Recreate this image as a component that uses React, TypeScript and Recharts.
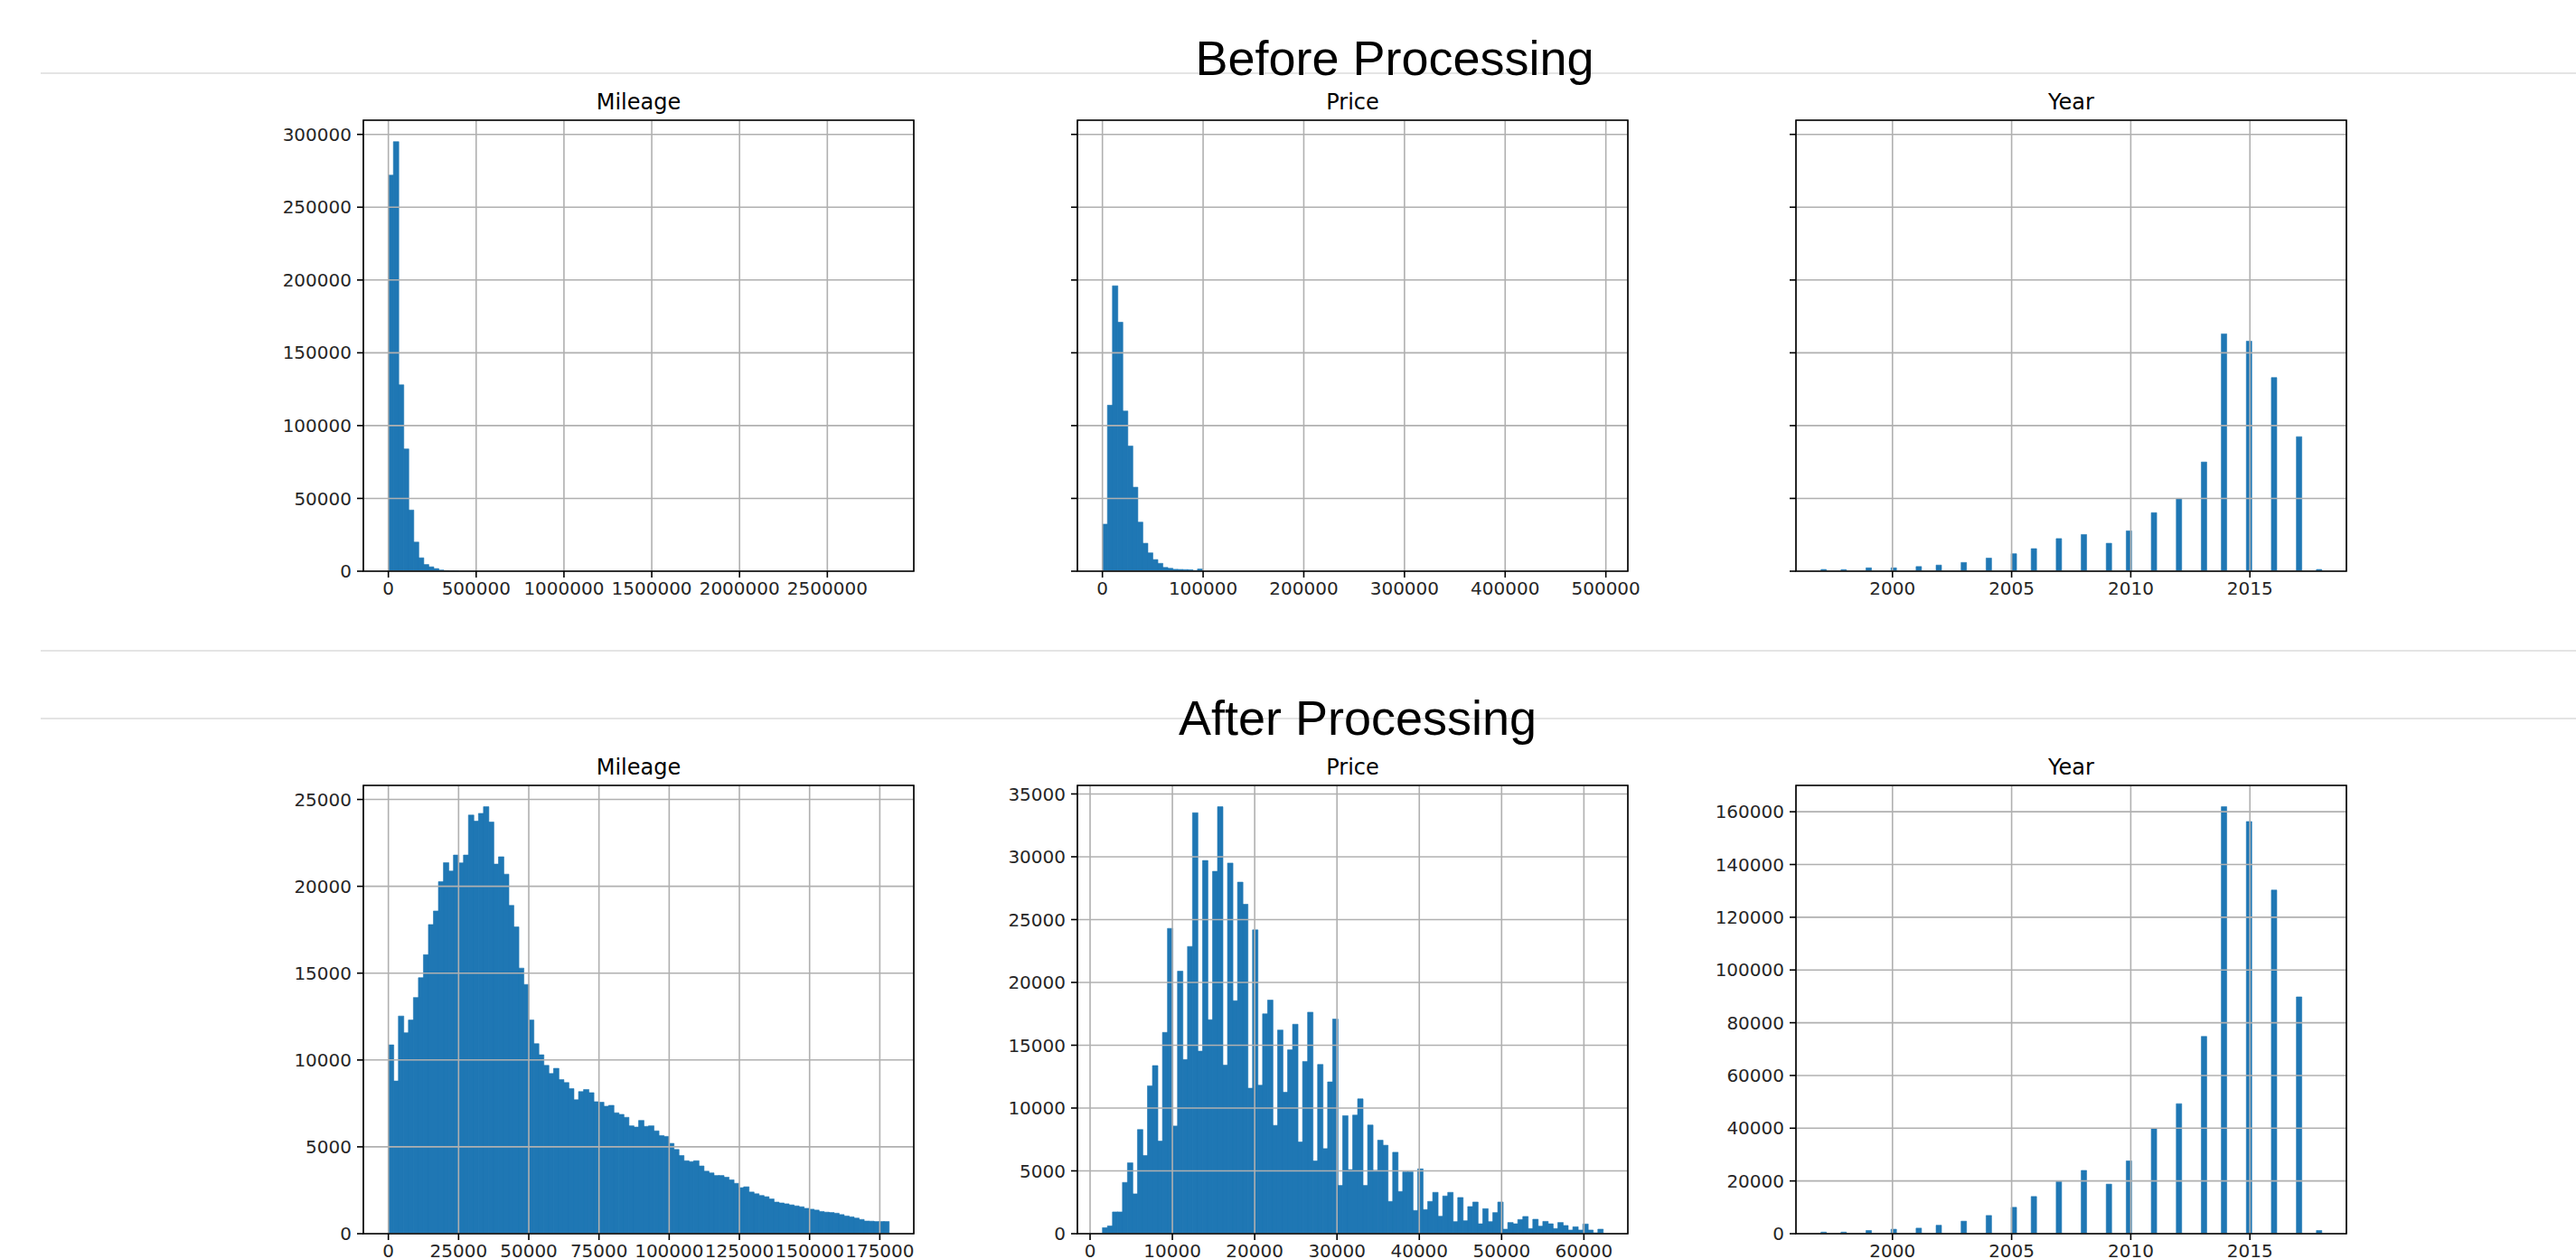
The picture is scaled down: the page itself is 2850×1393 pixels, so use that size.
import { BarChart, Bar, XAxis, YAxis, CartesianGrid, ReferenceArea } from 'recharts'

const BLUE = '#1f77b4'
const TICK_FONT = 'DejaVu Sans, sans-serif'

// ---- before processing ----
const beforeMileageRange: [number, number] = [0, 2850000]
const beforeMileage = [272000, 295000, 128000, 84000, 42000, 20000, 9200, 4600, 3000, 1800, 800, 400, 200, 100]
const beforeMileageTicks = [0, 500000, 1000000, 1500000, 2000000, 2500000]

const beforePriceRange: [number, number] = [0, 497000]
const beforePrice = [32300, 114000, 196000, 171000, 110000, 86000, 57700, 33700, 19200, 12600, 8000, 5400, 2600, 2000, 1300, 1200, 1100, 1000, 500, 1500]
const beforePriceTicks = [0, 100000, 200000, 300000, 400000, 500000]

const years = [1997, 1998, 1999, 2000, 2001, 2002, 2003, 2004, 2005, 2006, 2007, 2008, 2009, 2010, 2011, 2012, 2013, 2014, 2015, 2016, 2017, 2018]
const beforeYear = [1200, 1100, 2300, 2300, 3200, 4200, 6000, 9000, 12000, 15500, 22400, 25200, 19200, 27700, 40200, 50000, 75000, 163000, 158000, 133000, 92400, 1200]
const yearTicks = [2000, 2005, 2010, 2015]

const beforeCountTicks = [0, 50000, 100000, 150000, 200000, 250000, 300000]

// ---- after processing ----
const afterMileageRange: [number, number] = [0, 178200]
const afterMileage = [
  10870, 8790, 12530, 11570, 12300, 13600, 14740, 16060, 17800, 18580,
  20270, 21360, 20880, 21800, 21350, 21800, 24100, 23750, 24200, 24580,
  23700, 21280, 21700, 20700, 18900, 17660, 15290, 14350, 12300, 10940,
  10300, 9690, 9220, 9520, 8870, 8700, 8350, 7710, 8180, 8300,
  8120, 7600, 7570, 7340, 7390, 6960, 6870, 6700, 6210, 6140,
  6520, 6180, 6210, 5920, 5650, 5600, 5200, 4850, 4500, 4200,
  4150, 4200, 3900, 3600, 3500, 3350, 3350, 3250, 3100, 2900,
  2650, 2700, 2400, 2300, 2200, 2130, 2000, 1820, 1770, 1720,
  1660, 1600, 1550, 1460, 1410, 1360, 1280, 1240, 1220, 1180,
  1100, 1020, 970, 900, 820, 730, 720, 700, 700, 700,
]
const afterMileageTicks = [0, 25000, 50000, 75000, 100000, 125000, 150000, 175000]
const afterMileageCountTicks = [0, 5000, 10000, 15000, 20000, 25000]

const afterPriceRange: [number, number] = [1500, 62300]
const afterPrice = [
  480, 620, 1730, 1730, 4080, 5640, 3170, 8290, 6220, 11770,
  13380, 7370, 16020, 24300, 8570, 20890, 13860, 22860, 33500, 14530,
  29700, 17030, 28840, 33980, 13420, 29500, 18540, 27980, 26220, 11580,
  24180, 11820, 17500, 18590, 8620, 16210, 11260, 14630, 16670, 7300,
  13710, 17630, 5790, 13470, 6770, 12080, 17080, 3840, 9390, 5100,
  9440, 10730, 3840, 8650, 5040, 7440, 7040, 2570, 6480, 3360,
  4920, 4920, 1850, 5160, 1920, 2570, 3290, 1390, 3000, 3290,
  960, 2880, 1030, 2160, 2520, 790, 1990, 960, 1680, 2520,
  360, 890, 790, 1130, 1370, 410, 1150, 600, 980, 790,
  410, 890, 650, 290, 550, 290, 770, 290, 70, 360,
]
const afterPriceTicks = [0, 10000, 20000, 30000, 40000, 50000, 60000]
const afterPriceCountTicks = [0, 5000, 10000, 15000, 20000, 25000, 30000, 35000]

const afterYear = [600, 600, 1200, 1700, 2100, 3200, 4750, 6900, 10000, 14100, 19800, 24000, 18800, 27600, 39800, 49300, 74800, 161900, 156300, 130300, 89800, 1200]
const afterYearCountTicks = [0, 20000, 40000, 60000, 80000, 100000, 120000, 140000, 160000]

const N_BINS = 100

type Bin = { x: number; count: number }

// counts listed from the first bin on, bins are (hi-lo)/100 wide
function toBins(range: [number, number], counts: number[]): Bin[] {
  const w = (range[1] - range[0]) / N_BINS
  return counts.map((c, i) => ({ x: range[0] + (i + 0.5) * w, count: c }))
}

// put every year's count into the histogram bin it falls in
function yearBins(counts: number[]): Bin[] {
  const lo = years[0]
  const hi = years[years.length - 1]
  const w = (hi - lo) / N_BINS
  const bins: Bin[] = Array.from({ length: N_BINS }, (_, i) => ({ x: lo + (i + 0.5) * w, count: 0 }))
  years.forEach((y, k) => {
    const i = Math.min(N_BINS - 1, Math.floor((y - lo) / w + 1e-9))
    bins[i].count += counts[k]
  })
  return bins
}

function padded(range: [number, number]): [number, number] {
  const d = (range[1] - range[0]) * 0.05
  return [range[0] - d, range[1] + d]
}

const yearRange: [number, number] = [years[0], years[years.length - 1]]

// layout
const COLS = [402, 1192, 1987]
const PLOT_W = 609
const ROWS = [
  { top: 133, h: 499 },
  { top: 869, h: 496 },
]
const AXIS_W = 110
const AXIS_H = 50
const PAD_T = 10
const PAD_R = 50

interface PanelProps {
  col: number
  row: number
  data: Bin[]
  xDomain: [number, number]
  xTicks: number[]
  yTop: number
  yTicks: number[]
  yLabels?: boolean
}

const tickStyle = { fontSize: 20, fill: '#262626', fontFamily: TICK_FONT }
const tickLine = { stroke: '#000', strokeWidth: 1.6 }

function Panel({ col, row, data, xDomain, xTicks, yTop, yTicks, yLabels = true }: PanelProps) {
  const left = COLS[col]
  const { top, h } = ROWS[row]
  return (
    <div style={{ position: 'absolute', left: left - AXIS_W, top: top - PAD_T }}>
      <BarChart
        width={AXIS_W + PLOT_W + PAD_R}
        height={PAD_T + h + AXIS_H}
        data={data}
        margin={{ top: PAD_T, right: PAD_R, left: 0, bottom: 0 }}
        barCategoryGap={0}
        barGap={0}
      >
        <XAxis
          dataKey="x"
          type="number"
          domain={xDomain}
          ticks={xTicks}
          allowDataOverflow
          interval={0}
          height={AXIS_H}
          axisLine={false}
          tickLine={tickLine}
          tickSize={7}
          tickMargin={5}
          tick={tickStyle}
        />
        <YAxis
          type="number"
          domain={[0, yTop]}
          ticks={yTicks}
          allowDataOverflow
          interval={0}
          width={AXIS_W}
          axisLine={false}
          tickLine={tickLine}
          tickSize={7}
          tickMargin={6}
          tick={yLabels ? tickStyle : () => null}
        />
        <Bar dataKey="count" fill={BLUE} stroke={BLUE} strokeWidth={0.6} isAnimationActive={false} />
        <CartesianGrid stroke="#b0b0b0" strokeWidth={1.6} zIndex={400} />
        <ReferenceArea
          x1={xDomain[0]}
          x2={xDomain[1]}
          y1={0}
          y2={yTop}
          fill="none"
          stroke="#000"
          strokeWidth={1.6}
          ifOverflow="visible"
          zIndex={500}
        />
      </BarChart>
    </div>
  )
}

const subTitles = ['Mileage', 'Price', 'Year']

export default function App() {
  const topY = Math.max(...beforeMileage, ...beforePrice, ...beforeYear) * 1.05
  return (
    <div style={{ position: 'absolute', left: 0, top: 0, width: 2850, height: 1393, background: '#fff', overflow: 'hidden' }}>
      <svg width={2850} height={1393} style={{ position: 'absolute', left: 0, top: 0 }}>
        <line x1={45} x2={2850} y1={81} y2={81} stroke="#e4e4e4" strokeWidth={2} />
        <line x1={45} x2={2850} y1={720} y2={720} stroke="#e4e4e4" strokeWidth={2} />
        <line x1={45} x2={2850} y1={795} y2={795} stroke="#e4e4e4" strokeWidth={2} />
        <text x={1543} y={83} textAnchor="middle" fontFamily="Liberation Sans, Arial, sans-serif" fontSize={54} fill="#000">
          Before Processing
        </text>
        <text x={1502} y={813} textAnchor="middle" fontFamily="Liberation Sans, Arial, sans-serif" fontSize={54} fill="#000">
          After Processing
        </text>
        {ROWS.map((r, ri) =>
          subTitles.map((t, ci) => (
            <text
              key={`${ri}-${ci}`}
              x={COLS[ci] + PLOT_W / 2}
              y={r.top - 12}
              textAnchor="middle"
              fontFamily={TICK_FONT}
              fontSize={24}
              fill="#000"
            >
              {t}
            </text>
          )),
        )}
      </svg>

      <Panel col={0} row={0} data={toBins(beforeMileageRange, beforeMileage)} xDomain={padded(beforeMileageRange)} xTicks={beforeMileageTicks} yTop={topY} yTicks={beforeCountTicks} />
      <Panel col={1} row={0} data={toBins(beforePriceRange, beforePrice)} xDomain={padded(beforePriceRange)} xTicks={beforePriceTicks} yTop={topY} yTicks={beforeCountTicks} yLabels={false} />
      <Panel col={2} row={0} data={yearBins(beforeYear)} xDomain={padded(yearRange)} xTicks={yearTicks} yTop={topY} yTicks={beforeCountTicks} yLabels={false} />

      <Panel col={0} row={1} data={toBins(afterMileageRange, afterMileage)} xDomain={padded(afterMileageRange)} xTicks={afterMileageTicks} yTop={Math.max(...afterMileage) * 1.05} yTicks={afterMileageCountTicks} />
      <Panel col={1} row={1} data={toBins(afterPriceRange, afterPrice)} xDomain={padded(afterPriceRange)} xTicks={afterPriceTicks} yTop={Math.max(...afterPrice) * 1.05} yTicks={afterPriceCountTicks} />
      <Panel col={2} row={1} data={yearBins(afterYear)} xDomain={padded(yearRange)} xTicks={yearTicks} yTop={Math.max(...afterYear) * 1.05} yTicks={afterYearCountTicks} />
    </div>
  )
}
